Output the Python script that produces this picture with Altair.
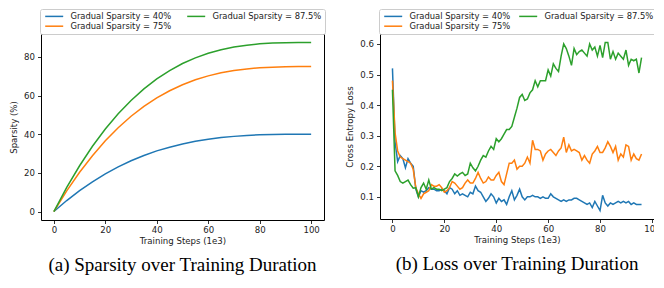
import altair as alt
import pandas as pd

# ---------------- data ----------------
series_labels = ["Gradual Sparsity = 40%", "Gradual Sparsity = 75%", "Gradual Sparsity = 87.5%"]
series_colors = ["#1f77b4", "#ff7f0e", "#2ca02c"]

# (a) sparsity over training duration
sparsity_steps = [0, 5, 10, 15, 20, 25, 30, 35, 40, 45, 50, 55, 60, 65, 70, 75, 80, 85, 90, 95, 100]
sparsity_40 = [0, 5.7, 10.8, 15.4, 19.5, 23.1, 26.3, 29.0, 31.4, 33.3, 35.0, 36.4, 37.4, 38.3, 38.9,
               39.4, 39.7, 39.9, 40.0, 40.0, 40.0]
sparsity_75 = [0, 10.7, 20.3, 28.9, 36.6, 43.4, 49.3, 54.4, 58.8, 62.5, 65.6, 68.2, 70.2, 71.8, 73.0,
               73.8, 74.4, 74.7, 74.9, 75.0, 75.0]
sparsity_875 = [0, 12.5, 23.7, 33.8, 42.7, 50.6, 57.5, 63.5, 68.6, 72.9, 76.6, 79.5, 81.9, 83.7, 85.1,
                86.1, 86.8, 87.2, 87.4, 87.5, 87.5]

# (b) loss over training duration
loss_steps = list(range(0, 97))
loss_40 = [0.52, 0.28, 0.215, 0.235, 0.225, 0.195, 0.225, 0.21, 0.2, 0.125,
           0.1, 0.12, 0.115, 0.12, 0.13, 0.125, 0.125, 0.12, 0.12, 0.125,
           0.12, 0.11, 0.13, 0.125, 0.11, 0.12, 0.105, 0.11, 0.105, 0.1,
           0.115, 0.11, 0.135, 0.12, 0.115, 0.1, 0.085, 0.095, 0.11, 0.1,
           0.08, 0.095, 0.085, 0.09, 0.075, 0.1, 0.12, 0.09, 0.105, 0.125,
           0.1, 0.09, 0.1, 0.1, 0.105, 0.1, 0.1, 0.095, 0.1, 0.095,
           0.095, 0.11, 0.1, 0.095, 0.09, 0.085, 0.09, 0.085, 0.09, 0.09,
           0.095, 0.095, 0.09, 0.085, 0.08, 0.075, 0.08, 0.065, 0.085, 0.07,
           0.055, 0.105, 0.08, 0.07, 0.08, 0.075, 0.08, 0.085, 0.08, 0.085,
           0.08, 0.085, 0.075, 0.08, 0.075, 0.075, 0.075]
loss_75 = [0.48, 0.31, 0.25, 0.23, 0.225, 0.22, 0.215, 0.21, 0.19, 0.13,
           0.11, 0.095, 0.11, 0.115, 0.12, 0.14, 0.135, 0.135, 0.14, 0.13,
           0.115, 0.12, 0.13, 0.15, 0.145, 0.135, 0.125, 0.13, 0.145, 0.155,
           0.145, 0.145, 0.16, 0.18, 0.16, 0.145, 0.15, 0.165, 0.155, 0.155,
           0.17, 0.18, 0.15, 0.14, 0.175, 0.21, 0.21, 0.22, 0.19, 0.2,
           0.2, 0.21, 0.23, 0.21, 0.285, 0.255, 0.255, 0.25, 0.22, 0.24,
           0.25, 0.255, 0.245, 0.235, 0.25, 0.26, 0.295, 0.245, 0.27, 0.25,
           0.255, 0.25, 0.245, 0.22, 0.235, 0.22, 0.21, 0.24, 0.25, 0.265,
           0.245, 0.245, 0.26, 0.28, 0.265, 0.245, 0.265, 0.22, 0.24, 0.23,
           0.27, 0.265, 0.22, 0.24, 0.225, 0.22, 0.24]
loss_875 = [0.45, 0.185, 0.17, 0.15, 0.145, 0.15, 0.155, 0.14, 0.128, 0.13,
            0.1, 0.13, 0.145, 0.125, 0.155, 0.125, 0.13, 0.125, 0.125, 0.12,
            0.125, 0.13, 0.15, 0.16, 0.175, 0.168, 0.175, 0.18, 0.17, 0.175,
            0.21, 0.195, 0.185, 0.2, 0.22, 0.235, 0.23, 0.25, 0.265, 0.255,
            0.29, 0.28, 0.29, 0.305, 0.32, 0.32, 0.33, 0.36, 0.39, 0.425,
            0.435, 0.415, 0.42, 0.44, 0.45, 0.48, 0.46, 0.48, 0.48, 0.48,
            0.515, 0.495, 0.535, 0.52, 0.51, 0.56, 0.6, 0.585, 0.56, 0.53,
            0.585, 0.565, 0.575, 0.58, 0.57, 0.56, 0.6, 0.58, 0.59, 0.56,
            0.595, 0.555, 0.605, 0.605, 0.55, 0.575, 0.55, 0.57, 0.56, 0.55,
            0.58, 0.53, 0.55, 0.545, 0.55, 0.505, 0.555]

tick_steps = [0, 20, 40, 60, 80, 100]
tick_sparsity = [0, 20, 40, 60, 80]
tick_loss = [0.1, 0.2, 0.3, 0.4, 0.5, 0.6]

captions = ["(a) Sparsity over Training Duration", "(b) Loss over Training Duration"]

# ---------------- tables ----------------
def long_table(steps, cols):
    rows = []
    for lab, vals in zip(series_labels, cols):
        for s, v in zip(steps, vals):
            rows.append({"step": s, "value": v, "series": lab})
    return pd.DataFrame(rows)

df_sparsity = long_table(sparsity_steps, [sparsity_40, sparsity_75, sparsity_875])
df_loss = long_table(loss_steps, [loss_40, loss_75, loss_875])

TXT = "#222222"
FONT = "DejaVu Sans"


def panel(df, xdom, ydom, yvals, yfmt, ytitle, ytitle_pad, width, height,
          lx, ly, lpad, lcolpad, caption):
    legend = alt.Legend(
        orient="none", legendX=lx, legendY=ly, columns=2, title=None,
        symbolType="M-1,0H8", symbolSize=16, symbolStrokeWidth=1.5,
        labelOffset=19, labelFont=FONT, labelFontSize=8.4, labelColor=TXT,
        padding=lpad, rowPadding=1, columnPadding=lcolpad,
        strokeColor="#cccccc", fillColor="white", cornerRadius=2,
    )
    layers = []
    for lab in series_labels:
        layers.append(
            alt.Chart(df)
            .transform_filter(alt.datum.series == lab)
            .mark_line(strokeWidth=1.5, clip=True)
            .encode(
                x=alt.X("step:Q", scale=alt.Scale(domain=xdom, nice=False, zero=False),
                        axis=alt.Axis(values=tick_steps, title="Training Steps (1e3)",
                                      labelFlush=False, labelPadding=1.5, titlePadding=3)),
                y=alt.Y("value:Q", scale=alt.Scale(domain=ydom, nice=False, zero=False),
                        axis=alt.Axis(values=yvals, format=yfmt, title=ytitle,
                                      labelPadding=3, titlePadding=ytitle_pad)),
                color=alt.Color("series:N",
                                scale=alt.Scale(domain=series_labels, range=series_colors),
                                legend=legend),
            )
        )
    return alt.layer(*layers).properties(
        width=width, height=height,
        title=alt.TitleParams(caption, orient="bottom", anchor="middle", frame="group",
                              font="Liberation Serif", fontSize=19, fontWeight="normal",
                              color="black", offset=11),
    )


left = panel(df_sparsity, [-5, 105], [-4.375, 91.875], tick_sparsity, "d", "Sparsity (%)", 5,
             283, 186, -1, -25, 3, 12, captions[0])
right = panel(df_loss, [-4.8, 100.8], [0.0275, 0.6325], tick_loss, ".1f", "Cross Entropy Loss", 5,
              274, 185, -1, -25, 3, 5, captions[1])

chart = (
    alt.hconcat(left, right, spacing=56, bounds="flush")
    .resolve_scale(color="independent")
    .resolve_legend(color="independent")
    .properties(padding={"left": 1, "top": 0, "right": -7, "bottom": 0}, background="white")
    .configure_view(stroke="black", strokeWidth=1, fill="white")
    .configure_axis(grid=False, domain=False, tickColor="black", tickSize=3.5, tickWidth=0.8,
                    labelFont=FONT, labelFontSize=8.6, labelColor=TXT,
                    titleFont=FONT, titleFontSize=8.6, titleFontWeight="normal", titleColor=TXT)
)

chart.save("out.html", embed_options={"renderer": "svg", "actions": False})
